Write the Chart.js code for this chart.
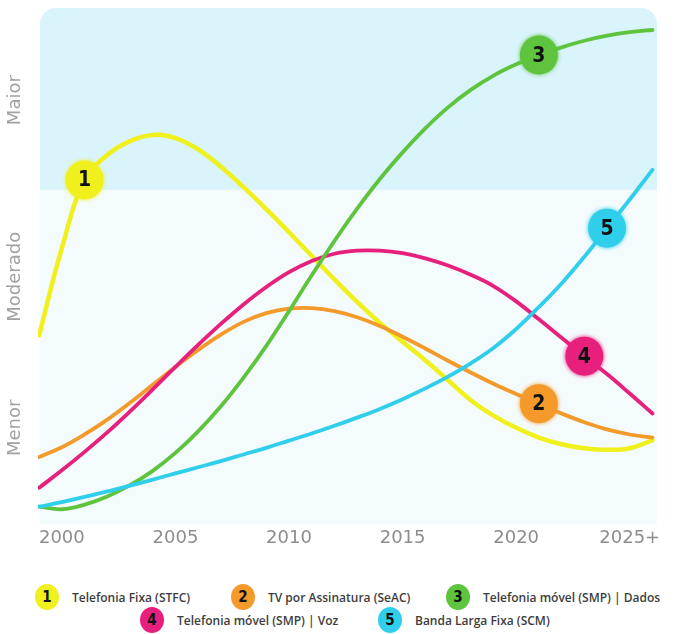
<!DOCTYPE html>
<html>
<head>
<meta charset="utf-8">
<script src="https://cdn.jsdelivr.net/npm/chart.js@4.4.1/dist/chart.umd.min.js"></script>
<style>
  html, body { margin: 0; padding: 0; background: #ffffff; }
  #wrap { position: relative; width: 682px; height: 565px; }
  #legend { position: relative; width: 682px; height: 69px; font-family: 'Open Sans', sans-serif; font-weight: 600; font-size: 12px; color: #3d3d3d; }
  .item { position: absolute; display: flex; align-items: center; white-space: nowrap; }
  .dot { width: 24px; height: 26px; border-radius: 50%; display: flex; align-items: center; justify-content: center;
         font-family: 'DejaVu Sans Condensed', 'DejaVu Sans', sans-serif; font-weight: bold; font-size: 15px; color: #111; margin-right: 13px; }
</style>
</head>
<body>
<div id="wrap"><canvas id="chart" width="682" height="565"></canvas></div>
<div id="legend"></div>
<script>
// Years on the horizontal axis
const years = [1999, 2000, 2001, 2002, 2003, 2004, 2005, 2006, 2007, 2008, 2009, 2010, 2011, 2012, 2013,
               2014, 2015, 2016, 2017, 2018, 2019, 2020, 2021, 2022, 2023, 2024, 2025, 2026];
const tickYears = [2000, 2005, 2010, 2015, 2020, 2025];
const tickLabels = ['2000', '2005', '2010', '2015', '2020', '2025+'];

// Relevance level of each service (0 = lowest, 100 = highest)
const telefoniaFixa = [36.1, 53.1, 66.4, 71.3, 74.0, 75.2, 74.6, 72.4, 69.0, 65.0, 60.7, 56.2, 51.6, 47.0, 42.6,
                       38.5, 34.8, 31.2, 27.3, 23.4, 20.4, 18.0, 16.1, 14.8, 14.0, 13.7, 14.0, 15.6];
const tvAssinatura  = [12.3, 14.2, 16.7, 19.6, 22.9, 26.4, 29.9, 33.2, 36.2, 38.7, 40.4, 41.3, 41.4, 40.8, 39.6,
                       37.9, 35.8, 33.5, 31.1, 28.8, 26.6, 24.6, 22.7, 20.8, 19.1, 17.7, 16.7, 16.1];
const movelDados    = [2.6, 2.1, 3.0, 4.6, 6.8, 9.6, 13.1, 17.3, 22.2, 27.8, 34.0, 40.8, 47.8, 54.5, 60.8,
                       66.6, 71.8, 76.5, 80.6, 84.0, 86.8, 89.0, 90.8, 92.3, 93.6, 94.6, 95.3, 95.7];
const movelVoz      = [6.3, 9.7, 13.3, 17.1, 21.2, 25.5, 29.9, 34.2, 38.3, 42.1, 45.5, 48.4, 50.6, 52.0, 52.6,
                       52.6, 52.1, 51.1, 49.7, 47.9, 45.7, 42.7, 39.2, 35.6, 32.0, 28.5, 24.7, 20.8];
const bandaLarga    = [2.6, 3.5, 4.5, 5.6, 6.7, 7.9, 9.1, 10.3, 11.5, 12.8, 14.1, 15.5, 16.9, 18.4, 20.0,
                       21.7, 23.6, 25.7, 28.0, 30.6, 33.6, 37.3, 41.6, 46.2, 51.4, 57.0, 62.6, 68.4];

const seriesNames = ['Telefonia Fixa (STFC)', 'TV por Assinatura (SeAC)', 'Telefonia móvel (SMP) | Dados',
                     'Telefonia móvel (SMP) | Voz', 'Banda Larga Fixa (SCM)'];
const seriesValues = [telefoniaFixa, tvAssinatura, movelDados, movelVoz, bandaLarga];
const seriesNumbers = ['1', '2', '3', '4', '5'];
const badgeYears = [2001, 2021, 2021, 2023, 2024];

// Level bands on the vertical axis
const levelLabels = ['Menor', 'Moderado', 'Maior'];
const levelCenters = [18, 47.5, 82];
const upperBandFrom = 64.5;

const colors = ['#eff01c', '#f39a2b', '#5ec43e', '#e6207c', '#2fcfeb'];

// Backdrop: faint panel with the "Maior" band tinted
const backdrop = {
  id: 'backdrop',
  beforeDraw(chart) {
    const { ctx, chartArea: a, scales: { y } } = chart;
    const left = a.left + 2, right = a.right, top = a.top, bottom = a.bottom + 4;
    const split = y.getPixelForValue(upperBandFrom);
    ctx.save();
    ctx.fillStyle = '#f4fbfd';
    ctx.beginPath();
    ctx.roundRect(left, top, right - left, bottom - top, [16, 16, 0, 0]);
    ctx.fill();
    ctx.fillStyle = '#daf4fc';
    ctx.beginPath();
    ctx.roundRect(left, top, right - left, split - top, [16, 16, 0, 0]);
    ctx.fill();
    ctx.restore();
  }
};

// Rotated level names on the left
const levelNames = {
  id: 'levelNames',
  beforeDatasetsDraw(chart) {
    const { ctx, scales: { y } } = chart;
    ctx.save();
    ctx.fillStyle = '#a2a2a2';
    ctx.font = '18px "DejaVu Sans", sans-serif';
    ctx.textAlign = 'center';
    ctx.textBaseline = 'middle';
    levelLabels.forEach((txt, i) => {
      ctx.save();
      ctx.translate(15, y.getPixelForValue(levelCenters[i]));
      ctx.rotate(-Math.PI / 2);
      ctx.fillText(txt, 0, 0);
      ctx.restore();
    });
    ctx.restore();
  }
};

// Numbered markers sitting on each curve
const badges = {
  id: 'badges',
  afterDatasetsDraw(chart) {
    const { ctx } = chart;
    chart.data.datasets.forEach((ds, i) => {
      const meta = chart.getDatasetMeta(i);
      const pt = meta.data[years.indexOf(badgeYears[i])];
      if (!pt) return;
      ctx.save();
      ctx.shadowColor = colors[i];
      ctx.shadowBlur = 4;
      ctx.fillStyle = colors[i];
      ctx.beginPath();
      ctx.ellipse(pt.x, pt.y, 19, 19.5, 0, 0, Math.PI * 2);
      ctx.fill();
      ctx.shadowBlur = 0;
      ctx.fillStyle = '#111';
      ctx.font = 'bold 21px "DejaVu Sans Condensed", "DejaVu Sans", sans-serif';
      ctx.textAlign = 'center';
      ctx.textBaseline = 'middle';
      ctx.fillText(seriesNumbers[i], pt.x, pt.y + 1);
      ctx.restore();
    });
  }
};

const datasets = seriesValues.map((vals, i) => ({
  label: seriesNames[i],
  data: years.map((yr, k) => ({ x: yr, y: vals[k] })),
  borderColor: colors[i],
  backgroundColor: colors[i],
  borderWidth: i === 0 ? 4.5 : 3.8,
  order: [5, 4, 2, 3, 1][i]
}));

new Chart(document.getElementById('chart'), {
  type: 'line',
  data: { datasets },
  options: {
    responsive: false,
    animation: false,
    layout: { padding: { left: 38, right: 25, top: 8, bottom: 15 } },
    plugins: { legend: { display: false }, tooltip: { enabled: false } },
    elements: {
      point: { radius: 0 },
      line: { tension: 0.4, borderCapStyle: 'round', borderJoinStyle: 'round' }
    },
    scales: {
      x: {
        type: 'linear',
        min: 1998.95,
        max: 2026.2,
        grid: { display: false, drawTicks: false },
        border: { display: false },
        afterBuildTicks(scale) { scale.ticks = tickYears.map(v => ({ value: v })); },
        afterFit(scale) { scale.height = 30; },
        ticks: {
          autoSkip: false,
          maxRotation: 0,
          padding: 8,
          color: '#8d8d8d',
          font: { family: '"DejaVu Sans", sans-serif', size: 18 },
          callback: (v, i) => tickLabels[i]
        }
      },
      y: { display: false, min: 0, max: 100 }
    }
  },
  plugins: [backdrop, levelNames, badges]
});

// Legend below the chart
const legendSlots = [[35, 19], [231, 19], [446, 19], [140, 42], [378, 42]];
const legend = document.getElementById('legend');
seriesNames.forEach((name, i) => {
  const item = document.createElement('div');
  item.className = 'item';
  item.style.left = legendSlots[i][0] + 'px';
  item.style.top = legendSlots[i][1] + 'px';
  const dot = document.createElement('span');
  dot.className = 'dot';
  dot.style.background = colors[i];
  dot.textContent = seriesNumbers[i];
  const txt = document.createElement('span');
  txt.textContent = name;
  item.appendChild(dot);
  item.appendChild(txt);
  legend.appendChild(item);
});
</script>
</body>
</html>
